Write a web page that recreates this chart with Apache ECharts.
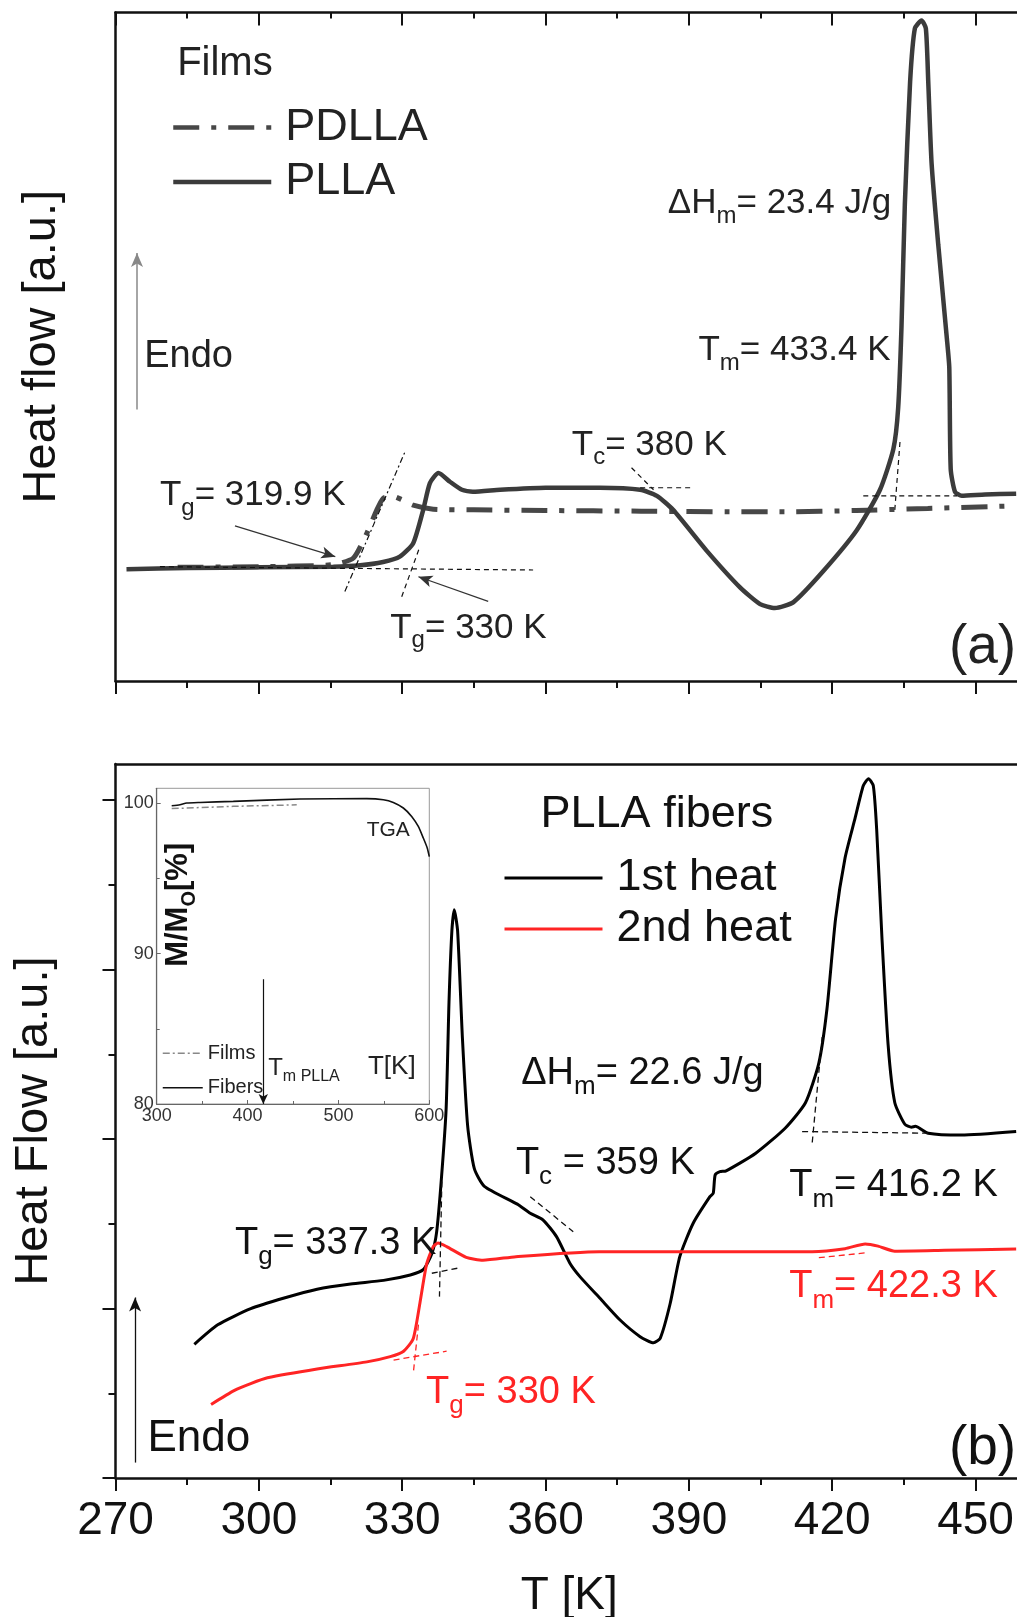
<!DOCTYPE html>
<html>
<head>
    <meta charset="utf-8">
    <title>DSC PLLA / PDLLA</title>
    <script src="https://cdn.jsdelivr.net/npm/echarts@6/dist/echarts.min.js"></script>
    <style>
        body { margin: 0; background: #fff; }
        #main { width: 1017px; height: 1617px; }
    </style>
</head>
<body>
<div id="main"></div>
<script type="text/javascript">
    // ---- data (T in K, heat flow in arbitrary units) ----
    // (a) films
    var pllaFilmT  = [272.3, 285, 300, 315.6, 321.2, 326, 329.5, 332.3, 334.4, 335.8, 337.6, 340.0, 342.5, 344.8, 350.5, 360, 371.4, 379.8, 383.3, 386.7, 393.7, 400.7, 404.9, 408.0, 411.9, 418.1, 425.1, 430.0, 432.8, 433.8, 434.5, 435.2, 436.3, 437.3, 438.7, 439.6, 440.1, 440.8, 442.2, 444.0, 444.5, 444.8, 445.7, 447.1, 452, 458.5];
    var pllaFilmHF = [16.7, 16.9, 17.0, 17.1, 17.3, 17.8, 18.6, 20.6, 25.6, 29.6, 31.1, 29.8, 28.6, 28.3, 28.6, 28.9, 28.9, 28.6, 27.7, 25.6, 19.5, 14.0, 11.5, 10.9, 11.8, 16.4, 22.5, 28.6, 34.7, 40.8, 53.0, 71.3, 89.6, 97.6, 98.8, 97.6, 89.6, 77.4, 65.2, 51.2, 46.9, 31.7, 28.3, 27.7, 27.9, 28.0];
    var pdllaT  = [283, 300, 315.5, 319.8, 322.6, 324.7, 326.0, 327.8, 330, 332.3, 336.5, 345, 360, 380, 400, 410, 425, 440, 458.5];
    var pdllaHF = [17.0, 17.1, 17.4, 18.4, 22.1, 25.6, 27.3, 27.7, 27.1, 26.3, 25.7, 25.6, 25.5, 25.4, 25.3, 25.3, 25.5, 25.8, 26.2];

    // (b) fibers
    var heat1T  = [286.5, 291.4, 298.3, 305.3, 312.2, 319.2, 326.1, 331.7, 334.4, 336.2, 337.2, 338.2, 339.2, 339.8, 340.4, 340.9, 341.6, 342.6, 343.7, 345.1, 347.2, 354.1, 356.8, 359.5, 362.3, 365.1, 367.2, 371.4, 375.6, 379.8, 382.6, 384.0, 386.1, 388.1, 390.9, 394.4, 395.1, 395.5, 396.5, 397.8, 404.0, 410.2, 414.4, 417.2, 418.9, 420.7, 422.7, 424.8, 426.5, 427.6, 428.6, 429.3, 430.4, 431.7, 433.1, 435.2, 436.6, 437.4, 440.1, 447.0, 458.5];
    var heat1HF = [0.789, 0.904, 0.999, 1.062, 1.114, 1.145, 1.166, 1.198, 1.229, 1.323, 1.449, 1.763, 2.181, 2.809, 3.228, 3.353, 3.228, 2.599, 2.077, 1.825, 1.721, 1.616, 1.562, 1.522, 1.424, 1.267, 1.188, 1.06, 0.932, 0.834, 0.798, 0.824, 1.031, 1.306, 1.503, 1.660, 1.680, 1.788, 1.807, 1.812, 1.916, 2.065, 2.214, 2.448, 2.767, 3.299, 3.660, 3.894, 4.084, 4.126, 4.084, 3.829, 3.192, 2.555, 2.214, 2.087, 2.070, 2.075, 2.034, 2.023, 2.044];
    var heat2T  = [290.0, 294.9, 298.3, 301.8, 312.2, 322.6, 327.5, 330.3, 332.3, 333.7, 335.1, 336.5, 337.5, 339.3, 343.4, 346.9, 353.8, 371.2, 388, 415.8, 422.7, 426.9, 429.6, 433.1, 443.5, 458.5];
    var heat2HF = [0.434, 0.517, 0.557, 0.591, 0.643, 0.685, 0.716, 0.748, 0.821, 1.030, 1.260, 1.365, 1.386, 1.365, 1.302, 1.285, 1.306, 1.335, 1.335, 1.335, 1.353, 1.381, 1.368, 1.338, 1.343, 1.351];

    // inset TGA (M/M0 in %)
    var tgaT       = [316.5, 325.6, 333, 347.6, 384.3, 457.7, 531.1, 549.4, 560.4, 571.4, 580.6, 587.9, 593.4, 597.8, 600];
    var tgaFibers  = [99.84, 99.91, 100.02, 100.06, 100.13, 100.29, 100.31, 100.24, 100.06, 99.69, 99.13, 98.46, 97.69, 97.02, 96.46];
    var tgaFilmT   = [316.5, 384.3, 454.1];
    var tgaFilms   = [99.65, 99.8, 99.9];

    // tangent constructions and arrows (data coordinates)
    var tangentsA    = [[[279.3, 17.1], [357.4, 16.6]], [[329.9, 12.6], [333.7, 20.1]], [[378, 31.9], [382.6, 28.6]],
                        [[379.8, 28.9], [390.9, 28.9]], [[433.1, 25.6], [434.2, 35.9]], [[426.5, 27.7], [446.1, 27.7]]];
    var tangentPdlla = [[318, 13.4], [330.6, 34.3]];
    var arrowsA      = [[[295, 23.2], [316, 18.6]], [[348, 11.9], [333.4, 15.6]]];
    var endoA        = [[274.5, 40.6], [274.5, 64.0]];
    var tangentsB    = [[[338.3, 1.75], [337.8, 1.07]], [[336.2, 1.208], [342.0, 1.240]], [[356.8, 1.660], [365.8, 1.453]],
                        [[417.9, 2.602], [415.8, 1.974]], [[413.7, 2.044], [440.8, 2.034]]];
    var tangentsBRed = [[[328.2, 0.696], [339.3, 0.748]], [[333.4, 0.905], [332.3, 0.612]], [[417.2, 1.30], [427.6, 1.33]]];
    var endoB        = [[274.1, 0.091], [274.1, 1.065]];
    var tmArrow      = [[417.3, 88.3], [417.3, 80]];

    var HB_MAX = 4.2124;   // top of panel (b) in tick units
    var FONT = '"Liberation Sans", Arial, Helvetica, sans-serif';
    var RED = '#ff2424';

    function zip(xs, ys) {
        return xs.map(function (x, i) { return [x, ys[i]]; });
    }

    function tangentSeries(segs, xi, yi, color, type, width) {
        return segs.map(function (s) {
            return {
                type: 'line', xAxisIndex: xi, yAxisIndex: yi, data: s, symbol: 'none', silent: true, z: 4,
                lineStyle: {color: color, width: width, type: type}
            };
        });
    }

    function arrowLine(pts, color, width) {
        return [{coord: pts[0], lineStyle: {color: color, width: width, type: 'solid'}}, {coord: pts[1]}];
    }

    var axisLine = {onZero: false, lineStyle: {color: '#111', width: 2.5}};
    var tickStyle = {color: '#111', width: 2};
    var noSymbol = {color: 'rgba(0,0,0,0)', borderWidth: 0, opacity: 0};

    var myChart = echarts.init(document.getElementById('main'));

    var series = [
        {
            name: 'PDLLA', type: 'line', xAxisIndex: 0, yAxisIndex: 0, data: zip(pdllaT, pdllaHF),
            symbol: 'none', smooth: 0.2, z: 2, itemStyle: {color: '#474747'},
            lineStyle: {color: '#474747', width: 5, type: [26, 12, 5, 12]}
        },
        {
            name: 'PLLA', type: 'line', xAxisIndex: 0, yAxisIndex: 0, data: zip(pllaFilmT, pllaFilmHF),
            symbol: 'none', smooth: 0.2, z: 3, itemStyle: {color: '#3b3b3b'},
            lineStyle: {color: '#3b3b3b', width: 4.5},
            markLine: {
                silent: true, symbol: ['none', 'arrow'], symbolSize: [9, 14], label: {show: false},
                data: [arrowLine(arrowsA[0], '#333', 1.2), arrowLine(arrowsA[1], '#333', 1.2), arrowLine(endoA, '#888', 1.5)]
            }
        },
        {
            name: '1st heat', type: 'line', xAxisIndex: 3, yAxisIndex: 1, data: zip(heat1T, heat1HF),
            symbol: 'none', smooth: 0.2, z: 3, itemStyle: {color: '#000'},
            lineStyle: {color: '#000', width: 3},
            markLine: {
                silent: true, symbol: ['none', 'arrow'], symbolSize: [9, 14], label: {show: false},
                data: [arrowLine(endoB, '#111', 1.3)]
            }
        },
        {
            name: '2nd heat', type: 'line', xAxisIndex: 3, yAxisIndex: 1, data: zip(heat2T, heat2HF),
            symbol: 'none', smooth: 0.2, z: 3, itemStyle: {color: RED},
            lineStyle: {color: RED, width: 3}
        },
        {
            name: 'Films', type: 'line', xAxisIndex: 4, yAxisIndex: 3, data: zip(tgaFilmT, tgaFilms),
            symbol: 'none', z: 3, itemStyle: {color: '#888'},
            lineStyle: {color: '#888', width: 1.5, type: [7, 3, 2, 3]}
        },
        {
            name: 'Fibers', type: 'line', xAxisIndex: 4, yAxisIndex: 3, data: zip(tgaT, tgaFibers),
            symbol: 'none', smooth: 0.2, z: 3, itemStyle: {color: '#111'},
            lineStyle: {color: '#111', width: 1.6},
            markLine: {
                silent: true, symbol: ['none', 'arrow'], symbolSize: [7, 10], label: {show: false},
                data: [arrowLine(tmArrow, '#111', 1.2)]
            }
        }
    ];
    series = series
        .concat(tangentSeries(tangentsA, 0, 0, '#111', [5, 4], 1.2))
        .concat(tangentSeries([tangentPdlla], 0, 0, '#111', [6, 3, 2, 3], 1.2))
        .concat(tangentSeries(tangentsB, 3, 1, '#111', [6, 4], 1.3))
        .concat(tangentSeries(tangentsBRed, 3, 1, RED, [6, 4], 1.3));

    myChart.setOption({
        animation: false,
        backgroundColor: '#fff',
        textStyle: {fontFamily: FONT},
        grid: [
            {left: 115.5, top: 12.4, width: 1003.4, height: 668.6, outerBoundsMode: 'none', containLabel: false},
            {left: 115.5, top: 764, width: 1003.4, height: 714, outerBoundsMode: 'none', containLabel: false},
            {left: 156.7, top: 788.3, width: 272.6, height: 315.7, show: true, outerBoundsMode: 'none', containLabel: false,
                borderColor: '#999', borderWidth: 1, backgroundColor: 'rgba(0,0,0,0)'}
        ],
        legend: [
            {
                data: ['PDLLA', 'PLLA'], orient: 'vertical', left: 166, top: 100,
                itemWidth: 98, itemHeight: 14, itemGap: 9.5, selectedMode: false,
                lineStyle: {width: 4.5}, itemStyle: noSymbol,
                textStyle: {fontSize: 45, lineHeight: 45, color: '#222', fontFamily: FONT, padding: [0, 0, 0, 9]}
            },
            {
                data: ['1st heat', '2nd heat'], orient: 'vertical', left: 498, top: 850.5,
                itemWidth: 98, itemHeight: 14, itemGap: 6, selectedMode: false,
                lineStyle: {width: 3}, itemStyle: noSymbol,
                textStyle: {fontSize: 45, lineHeight: 45, color: '#111', fontFamily: FONT, padding: [0, 0, 0, 9]}
            },
            {
                data: ['Films', 'Fibers'], orient: 'vertical', left: 157, top: 1036.3,
                itemWidth: 40, itemHeight: 10, itemGap: 10.4, selectedMode: false,
                lineStyle: {width: 1.5}, itemStyle: noSymbol,
                textStyle: {fontSize: 20, lineHeight: 24, color: '#222', fontFamily: FONT, padding: [0, 0, 0, 0]}
            }
        ],
        xAxis: [
            {   // (a) bottom
                gridIndex: 0, type: 'value', position: 'bottom', min: 270, max: 480, interval: 30,
                axisLine: axisLine, axisTick: {inside: false, length: 13, lineStyle: tickStyle},
                minorTick: {show: true, splitNumber: 2, length: 7, lineStyle: tickStyle},
                axisLabel: {show: false}, splitLine: {show: false}
            },
            {   // (a) top
                gridIndex: 0, type: 'value', position: 'top', min: 270, max: 480, interval: 30,
                axisLine: axisLine, axisTick: {inside: true, length: 13, lineStyle: tickStyle},
                minorTick: {show: true, splitNumber: 2, length: 6, lineStyle: tickStyle},
                axisLabel: {show: false}, splitLine: {show: false}
            },
            {   // (b) top
                gridIndex: 1, type: 'value', position: 'top', min: 270, max: 480, interval: 30,
                axisLine: axisLine, axisTick: {show: false}, axisLabel: {show: false}, splitLine: {show: false}
            },
            {   // (b) bottom
                gridIndex: 1, type: 'value', position: 'bottom', min: 270, max: 480, interval: 30,
                axisLine: axisLine, axisTick: {inside: false, length: 13, lineStyle: tickStyle},
                minorTick: {show: true, splitNumber: 2, length: 7, lineStyle: tickStyle},
                axisLabel: {fontSize: 46, margin: 20, color: '#111', fontFamily: FONT},
                splitLine: {show: false},
                name: 'T [K]', nameLocation: 'middle', nameGap: 95,
                nameTextStyle: {fontSize: 46, color: '#111', fontFamily: FONT, padding: [0, 96, 0, 0]}
            },
            {   // inset
                gridIndex: 2, type: 'value', position: 'bottom', min: 300, max: 600, interval: 100,
                axisLine: {onZero: false, lineStyle: {color: '#666', width: 1.2}},
                axisTick: {inside: true, length: 4, lineStyle: {color: '#666'}},
                minorTick: {show: true, splitNumber: 2, length: 3, lineStyle: {color: '#666'}},
                axisLabel: {fontSize: 18, margin: 3, color: '#333', fontFamily: FONT},
                splitLine: {show: false}
            }
        ],
        yAxis: [
            {   // (a) left
                gridIndex: 0, type: 'value', position: 'left', min: 0, max: 100,
                axisLine: axisLine, axisTick: {show: false}, axisLabel: {show: false}, splitLine: {show: false},
                name: 'Heat flow [a.u.]', nameLocation: 'middle', nameGap: 50,
                nameTextStyle: {fontSize: 47, color: '#111', fontFamily: FONT}
            },
            {   // (b) left, major ticks
                gridIndex: 1, type: 'value', position: 'left', min: 0, max: HB_MAX,
                axisLine: axisLine,
                axisTick: {inside: false, length: 13, lineStyle: tickStyle, customValues: [0, 1, 2, 3, 4]},
                axisLabel: {show: false, customValues: [0, 1, 2, 3, 4]}, splitLine: {show: false},
                name: 'Heat Flow [a.u.]', nameLocation: 'middle', nameGap: 58,
                nameTextStyle: {fontSize: 47, color: '#111', fontFamily: FONT}
            },
            {   // (b) left, minor ticks
                gridIndex: 1, type: 'value', position: 'left', min: 0, max: HB_MAX,
                axisLine: {show: false},
                axisTick: {inside: false, length: 7, lineStyle: tickStyle, customValues: [0.5, 1.5, 2.5, 3.5]},
                axisLabel: {show: false, customValues: [0.5, 1.5, 2.5, 3.5]}, splitLine: {show: false}
            },
            {   // inset left
                gridIndex: 2, type: 'value', position: 'left', min: 80, max: 101,
                axisLine: {onZero: false, lineStyle: {color: '#666', width: 1.2}},
                axisTick: {inside: true, length: 4, lineStyle: {color: '#666'}, customValues: [80, 90, 100]},
                axisLabel: {fontSize: 18, margin: 3, color: '#333', fontFamily: FONT, customValues: [80, 90, 100]},
                splitLine: {show: false}
            },
            {   // inset minor
                gridIndex: 2, type: 'value', position: 'left', min: 80, max: 101,
                axisLine: {show: false},
                axisTick: {inside: true, length: 3, lineStyle: {color: '#666'}, customValues: [85, 95]},
                axisLabel: {show: false, customValues: [85, 95]}, splitLine: {show: false}
            }
        ],
        series: series
    });

    // ---- annotations, anchored in data coordinates ----
    function rich(size, color) {
        return {
            n: {fontSize: size, lineHeight: Math.round(size * 1.4), fill: color, fontFamily: FONT},
            s: {fontSize: Math.round(size * 0.68), lineHeight: Math.round(size * 0.4), verticalAlign: 'bottom', fill: color, fontFamily: FONT}
        };
    }

    var gA = {xAxisIndex: 0, yAxisIndex: 0};
    var gB = {xAxisIndex: 3, yAxisIndex: 1};
    var gI = {xAxisIndex: 4, yAxisIndex: 3};

    var notes = [
        [gA, 282.9, 92.3, '{n|Films}', 40, '#222', 'left'],
        [gA, 276.0, 48.6, '{n|Endo}', 38, '#222', 'left'],
        [gA, 385.6, 71.4, '{n|\u0394H}{s|m}{n|= 23.4 J/g}', 35, '#222', 'left'],
        [gA, 392.0, 49.4, '{n|T}{s|m}{n|= 433.4 K}', 35, '#222', 'left'],
        [gA, 365.5, 35.3, '{n|T}{s|c}{n|= 380 K}', 35, '#222', 'left'],
        [gA, 279.3, 27.7, '{n|T}{s|g}{n|= 319.9 K}', 35, '#222', 'left'],
        [gA, 327.5, 7.9, '{n|T}{s|g}{n|= 330 K}', 35, '#222', 'left'],
        [gA, 458.5, 4.9, '{n|(a)}', 55, '#222', 'right'],
        [gB, 383.3, 3.912, '{n|PLLA fibers}', 45, '#111', 'center'],
        [gB, 354.9, 2.389, '{n|\u0394H}{s|m}{n|= 22.6 J/g}', 38, '#111', 'left'],
        [gB, 353.8, 1.858, '{n|T}{s|c}{n| = 359 K}', 38, '#111', 'left'],
        [gB, 411.0, 1.723, '{n|T}{s|m}{n|= 416.2 K}', 38, '#111', 'left'],
        [gB, 295.0, 1.386, '{n|T}{s|g}{n|= 337.3 K}', 38, '#111', 'left'],
        [gB, 411.0, 1.127, '{n|T}{s|m}{n|= 422.3 K}', 38, RED, 'left'],
        [gB, 335.0, 0.507, '{n|T}{s|g}{n|= 330 K}', 38, RED, 'left'],
        [gB, 276.7, 0.230, '{n|Endo}', 44, '#111', 'left'],
        [gB, 458.5, 0.171, '{n|(b)}', 55, '#111', 'right'],
        [gI, 531.1, 98.24, '{n|TGA}', 21, '#222', 'left'],
        [gI, 532.5, 82.48, '{n|T[K]}', 26, '#222', 'left'],
        [gI, 422.7, 82.4, '{n|T}{s|m PLLA}', 24, '#222', 'left']
    ];

    var graphics = notes.map(function (d) {
        var p = myChart.convertToPixel(d[0], [d[1], d[2]]);
        return {
            type: 'text', x: p[0], y: p[1], silent: true, z: 10,
            style: {text: d[3], rich: rich(d[4], d[5]), align: d[6], verticalAlign: 'middle'}
        };
    });

    // rotated inset axis title
    var pm = myChart.convertToPixel(gI, [323.8, 93.25]);
    graphics.push({
        type: 'text', x: pm[0], y: pm[1], rotation: Math.PI / 2, silent: true, z: 10,
        style: {
            text: '{n|M/M}{s|O}{n|[%]}', align: 'center', verticalAlign: 'middle',
            rich: {
                n: {fontSize: 31, lineHeight: 42, fill: '#111', fontWeight: 'bold', fontFamily: FONT},
                s: {fontSize: 20, lineHeight: 12, verticalAlign: 'bottom', fill: '#111', fontWeight: 'bold', fontFamily: FONT}
            }
        }
    });

    myChart.setOption({graphic: graphics});
</script>
</body>
</html>
